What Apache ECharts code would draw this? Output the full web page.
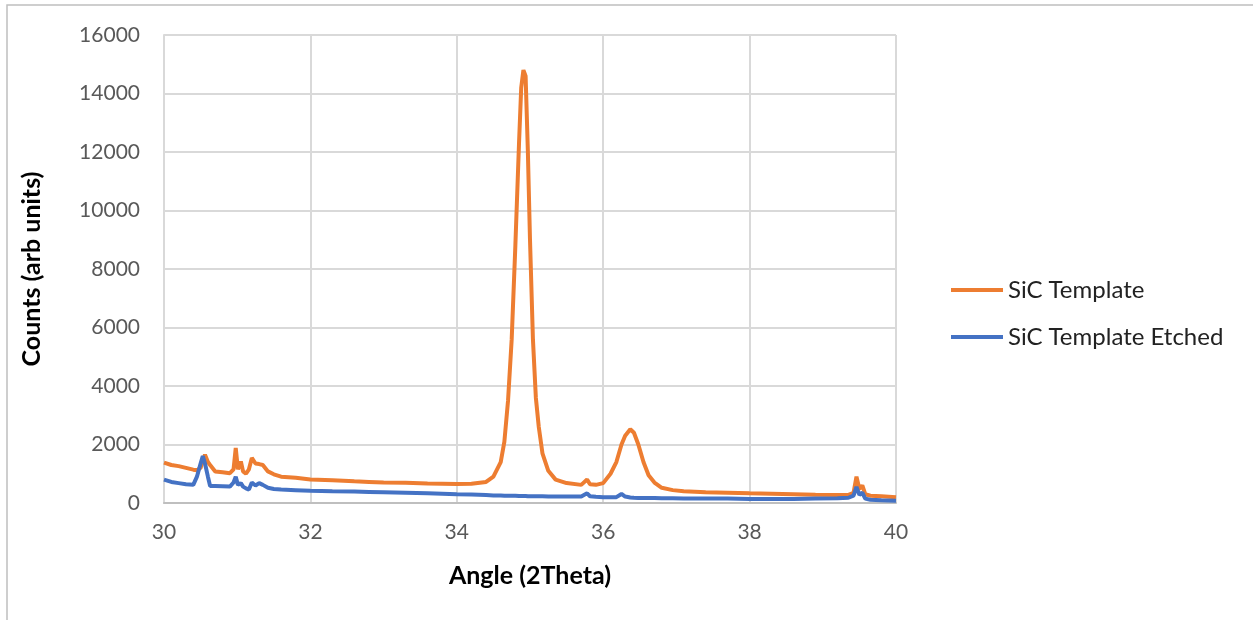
<!DOCTYPE html>
<html>
<head>
<meta charset="utf-8">
<script src="https://cdn.jsdelivr.net/npm/echarts@6/dist/echarts.min.js"></script>
<style>
  html, body { margin: 0; padding: 0; background: #fff; }
  #canvas { width: 1253px; height: 620px; }
</style>
</head>
<body>
<div id="canvas"></div>
<script>
// angle positions (2Theta) shared by both scans
const angles = [
  30.00, 30.10, 30.20, 30.30, 30.40, 30.45, 30.50, 30.53, 30.56, 30.60,
  30.63, 30.70, 30.80, 30.90, 30.95, 30.98, 31.01, 31.05, 31.08, 31.12,
  31.16, 31.20, 31.25, 31.30, 31.35, 31.42, 31.50, 31.60, 31.80, 32.00,
  32.30, 32.60, 32.80, 33.00, 33.30, 33.60, 34.00, 34.20, 34.40, 34.50,
  34.60, 34.65, 34.70, 34.75, 34.80, 34.85, 34.88, 34.91, 34.94, 34.97,
  35.00, 35.04, 35.08, 35.12, 35.17, 35.25, 35.35, 35.50, 35.70, 35.78,
  35.82, 35.90, 36.00, 36.10, 36.18, 36.25, 36.30, 36.37, 36.42, 36.48,
  36.55, 36.62, 36.70, 36.80, 36.95, 37.10, 37.40, 37.70, 38.00, 38.30,
  38.60, 38.90, 39.20, 39.35, 39.42, 39.46, 39.50, 39.54, 39.58, 39.65,
  39.80, 40.00
];

const templateCounts = [
  1380, 1300, 1260, 1200, 1140, 1120, 1200, 1450, 1650, 1400,
  1300, 1080, 1050, 1020, 1150, 1880, 1150, 1420, 1080, 1000,
  1150, 1540, 1350, 1330, 1300, 1080, 980, 900, 860, 800,
  780, 740, 720, 700, 690, 670, 650, 660, 720, 900,
  1400, 2100, 3500, 5600, 8800, 12300, 14200, 14800, 14600, 12100,
  9000, 5600, 3600, 2600, 1700, 1100, 800, 680, 620, 800,
  640, 620, 680, 1000, 1400, 2000, 2300, 2520, 2400, 2000,
  1400, 950, 700, 520, 440, 400, 370, 350, 330, 320,
  300, 280, 270, 280, 350, 900, 480, 600, 300, 250,
  230, 200
];

const etchedCounts = [
  800, 720, 680, 640, 620, 900, 1350, 1600, 1350, 900,
  580, 580, 570, 560, 700, 900, 620, 680, 560, 500,
  460, 700, 600, 680, 620, 520, 480, 460, 440, 420,
  400, 390, 380, 370, 350, 330, 300, 290, 270, 260,
  260, 250, 250, 250, 250, 240, 240, 240, 240, 230,
  230, 230, 230, 230, 230, 220, 220, 220, 220, 330,
  230, 210, 200, 200, 200, 310, 220, 190, 180, 170,
  170, 170, 170, 160, 160, 150, 150, 150, 140, 140,
  140, 150, 160, 180, 250, 550, 280, 350, 150, 110,
  90, 80
];

const seriesNames = ["SiC Template", "SiC Template Etched"];

const font = "Lato, 'Open Sans', sans-serif";
const myChart = echarts.init(document.querySelector("#canvas"));
myChart.setOption({
  animation: false,
  textStyle: { fontFamily: font },
  grid: { left: 164, right: 357, top: 35, bottom: 117 },
  graphic: [{
    type: "rect",
    shape: { x: 7, y: 5, width: 1300, height: 700 },
    style: { fill: "none", stroke: "#bfbfbf", lineWidth: 1.5 },
    silent: true
  }],
  legend: {
    orient: "vertical",
    left: 946,
    top: 272,
    itemWidth: 52,
    itemHeight: 4,
    itemGap: 21,
    icon: "rect",
    textStyle: { fontSize: 24, color: "#222", lineHeight: 26, fontFamily: font, padding: [0, 0, 0, 0] },
    data: seriesNames
  },
  xAxis: {
    type: "value",
    min: 30,
    max: 40,
    interval: 2,
    name: "Angle (2Theta)",
    nameLocation: "middle",
    nameGap: 60,
    nameTextStyle: { fontSize: 25, fontWeight: "bold", color: "#000", fontFamily: font },
    axisLine: { lineStyle: { color: "#bfbfbf", width: 2 } },
    axisTick: { show: false },
    axisLabel: { fontSize: 21, color: "#595959", margin: 19, fontFamily: font },
    splitLine: { show: true, lineStyle: { color: "#d9d9d9", width: 2 } }
  },
  yAxis: {
    type: "value",
    min: 0,
    max: 16000,
    interval: 2000,
    name: "Counts (arb units)",
    nameLocation: "middle",
    nameGap: 120,
    nameTextStyle: { fontSize: 25, fontWeight: "bold", color: "#000", fontFamily: font },
    axisLine: { show: true, lineStyle: { color: "#d9d9d9", width: 2 } },
    axisTick: { show: false },
    axisLabel: { fontSize: 21, color: "#595959", margin: 24, fontFamily: font, formatter: (v) => String(v) },
    splitLine: { show: true, lineStyle: { color: "#d9d9d9", width: 2 } }
  },
  series: [
    {
      name: seriesNames[0],
      type: "line",
      showSymbol: false,
      color: "#ED7D31",
      lineStyle: { width: 4 },
      data: angles.map((a, i) => [a, templateCounts[i]])
    },
    {
      name: seriesNames[1],
      type: "line",
      showSymbol: false,
      color: "#4472C4",
      lineStyle: { width: 4 },
      data: angles.map((a, i) => [a, etchedCounts[i]])
    }
  ]
});
</script>
</body>
</html>
